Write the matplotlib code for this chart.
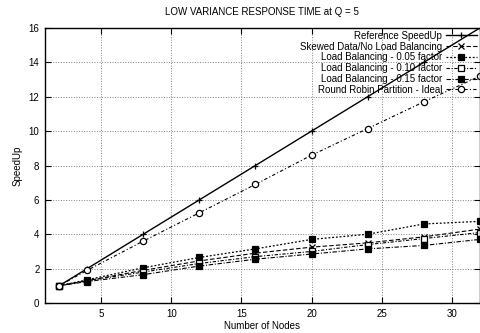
import matplotlib
matplotlib.use("Agg")
import matplotlib.pyplot as plt

plt.rcParams['font.family'] = ['Liberation Sans', 'DejaVu Sans']

nodes = [2, 4, 8, 12, 16, 20, 24, 28, 32]
reference = [1, 2, 4, 6, 8, 10, 12, 14, 16]
skewed = [1, 1.3, 1.9, 2.45, 2.9, 3.25, 3.5, 3.85, 4.3]
lb_005 = [1, 1.35, 2.05, 2.65, 3.15, 3.7, 4.0, 4.6, 4.75]
lb_010 = [1, 1.3, 1.8, 2.3, 2.7, 3.0, 3.4, 3.75, 4.1]
lb_015 = [1, 1.25, 1.65, 2.15, 2.55, 2.85, 3.15, 3.35, 3.7]
round_robin = [1, 1.9, 3.6, 5.25, 6.9, 8.6, 10.15, 11.7, 13.2]

labels = [
    "Reference SpeedUp",
    "Skewed Data/No Load Balancing",
    "Load Balancing - 0.05 factor",
    "Load Balancing - 0.10 factor",
    "Load Balancing - 0.15 factor",
    "Round Robin Partition - Ideal",
]
x_ticks = [5, 10, 15, 20, 25, 30]
y_ticks = [0, 2, 4, 6, 8, 10, 12, 14, 16]

fig = plt.figure(figsize=(4.81, 3.33), dpi=100)
ax = fig.add_axes([0.0936, 0.090, 0.904, 0.826])

series = [reference, skewed, lb_005, lb_010, lb_015, round_robin]
styles = [
    dict(ls='-', marker='+', ms=5, lw=1.0, mfc='k'),
    dict(ls=(0, (4, 2)), marker='x', ms=4, lw=0.8, mfc='k'),
    dict(ls=(0, (1.5, 1.5)), marker='s', ms=4, lw=0.9, mfc='k'),
    dict(ls=(0, (3, 1.5, 1, 1.5)), marker='s', ms=4.5, lw=0.8, mfc='white'),
    dict(ls=(0, (4, 1.5, 1, 1.5)), marker='s', ms=4.5, lw=0.8, mfc='k'),
    dict(ls=(0, (3, 2, 1, 2)), marker='o', ms=4.5, lw=0.8, mfc='white'),
]
for vals, lab, st in zip(series, labels, styles):
    ax.plot(nodes, vals, color='k', mec='k', mew=0.9, label=lab, **st)

ax.set_xlim(1, 32)
ax.set_ylim(0, 16)
ax.set_xticks(x_ticks)
ax.set_yticks(y_ticks)
ax.grid(True, color='0.5', ls=':', lw=0.7)
ax.tick_params(direction='in', length=4, width=0.8, labelsize=7,
               top=True, right=True, pad=4)
for s in ax.spines.values():
    s.set_linewidth(1.0)

ax.set_title("LOW VARIANCE RESPONSE TIME at Q = 5", fontsize=7, pad=9)
ax.set_xlabel("Number of Nodes", fontsize=7, labelpad=2)
ax.set_ylabel("SpeedUp", fontsize=7, labelpad=4)

leg = ax.legend(loc='upper right', markerfirst=False, frameon=False,
                fontsize=7, handlelength=3.2, handletextpad=0.4,
                labelspacing=0.08, borderaxespad=0.2, borderpad=0.1)

fig.savefig("out.png", dpi=100)
